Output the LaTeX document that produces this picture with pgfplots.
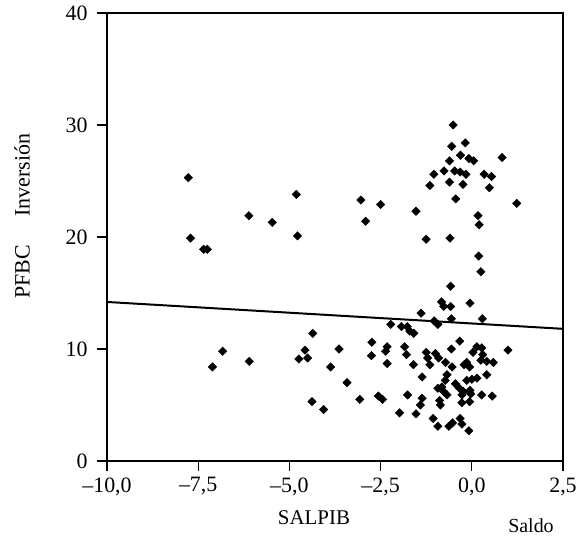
\documentclass[border=0pt]{standalone}
\usepackage{pgfplots}
\pgfplotsset{compat=1.18}
\usepackage{fontspec}
\setmainfont{Liberation Serif}
\begin{document}
\begin{tikzpicture}
\begin{axis}[
  scale only axis,
  anchor=south west, at={(0,0)},
  width=456bp, height=448bp,
  xmin=-10, xmax=2.5, ymin=0, ymax=40,
  xtick={-10,-7.5,-5,-2.5,0,2.5},
  xticklabels={{–10,0},{–7,5},{–5,0},{–2,5},{0,0},{2,5}},
  ytick={0,10,20,30,40},
  yticklabels={0,10,20,30,40},
  xtick pos=bottom, ytick pos=left,
  tick align=outside,
  major tick length=10bp,
  tick style={line width=1.2bp, black},
  axis line style={line width=1.3bp},
  ticklabel style={font=\fontsize{22}{25}\selectfont},
  xticklabel style={yshift=-3bp},
  yticklabel style={xshift=-6bp},
  clip=false,
]
\addplot[only marks, mark=square*, mark size=3bp, mark options={rotate=45, fill=black, draw=black}] coordinates {
(-7.77,25.3) (-7.71,19.9) (-7.35,18.9) (-7.25,18.9) (-6.11,21.9) (-5.47,21.3) (-4.81,23.8) (-4.78,20.1)
(-0.51,30.0) (-0.55,28.1) (-0.18,28.4) (-0.31,27.3) (-0.08,27.0) (0.05,26.8) (0.83,27.1) (-0.61,26.8)
(-0.76,25.9) (-1.04,25.6) (-0.47,25.9) (-0.32,25.8) (-0.16,25.6) (0.34,25.6) (0.54,25.4) (-1.15,24.6)
(-0.61,24.9) (-0.24,24.7) (0.48,24.4) (-0.44,23.4) (1.23,23.0) (-3.04,23.3) (-2.50,22.9) (-2.91,21.4)
(-1.53,22.3) (0.17,21.9) (0.20,21.1) (-1.25,19.8) (-0.60,19.9) (0.19,18.3) (0.25,16.9)
(-4.36,11.4) (-6.83,9.8) (-7.11,8.4) (-6.10,8.9) (-4.57,9.9) (-4.74,9.1) (-4.50,9.2) (-3.64,10.0)
(-3.87,8.4) (-3.42,7.0) (-4.38,5.3) (-4.06,4.6)
(-0.58,15.6) (-0.83,14.2) (-0.77,13.8) (-0.58,13.8) (-0.05,14.1) (-1.39,13.2) (-1.03,12.5) (-0.93,12.2)
(-0.56,12.7) (0.29,12.7) (-2.22,12.2) (-1.93,12.0) (-1.77,12.0) (-1.70,11.6) (-1.59,11.4)
(-2.74,10.6) (-2.75,9.4) (-2.32,10.2) (-2.36,9.8) (-2.32,8.7) (-1.84,10.2) (-1.79,9.5) (-1.60,8.6)
(-1.25,9.7) (-1.21,9.2) (-1.15,8.6) (-1.00,9.6) (-0.91,9.2) (-0.72,8.8) (-0.54,8.4) (-0.56,10.0)
(-0.33,10.7) (-0.21,8.6) (-0.14,8.8) (-0.06,8.4) (0.03,9.7) (0.14,10.2) (0.27,10.1) (0.30,9.5)
(0.25,9.0) (0.41,8.9) (0.59,8.8) (0.99,9.9) (-1.36,7.5) (-0.68,7.7) (-0.73,7.2)
(-0.93,6.5) (-0.82,6.6) (-0.77,6.2) (-0.68,5.9) (-0.88,5.4) (-0.86,5.0)
(-0.45,6.9) (-0.34,6.5) (-0.23,6.2) (-0.27,5.9) (-0.14,7.2) (0.00,7.3) (0.14,7.4) (0.41,7.7)
(-0.05,6.3) (-0.03,6.0) (0.27,5.9) (0.56,5.8) (-0.27,5.2) (-0.06,5.3)
(-3.07,5.5) (-2.56,5.8) (-2.45,5.5) (-1.76,5.9) (-1.36,5.6) (-1.41,5.0) (-1.98,4.3) (-1.53,4.2)
(-1.06,3.8) (-0.93,3.1) (-0.63,3.1) (-0.53,3.4) (-0.32,3.8) (-0.27,3.3) (-0.08,2.7)
};
\addplot[line width=2bp, black] coordinates {(-10,14.2) (2.5,11.8)};
\end{axis}
\node[font=\fontsize{21}{24}\selectfont, anchor=center] at (207bp,-57bp) {SALPIB};
\node[font=\fontsize{20}{24}\selectfont, anchor=center] at (424bp,-65bp) {Saldo};
\node[font=\fontsize{22}{25}\selectfont, anchor=center, rotate=90] at (-85bp,245bp) {PFBC\hspace{1.3em}Inversión};
\pgfresetboundingbox
\path[use as bounding box] (-107bp,-78bp) rectangle (469bp,461bp);
\end{tikzpicture}
\end{document}
